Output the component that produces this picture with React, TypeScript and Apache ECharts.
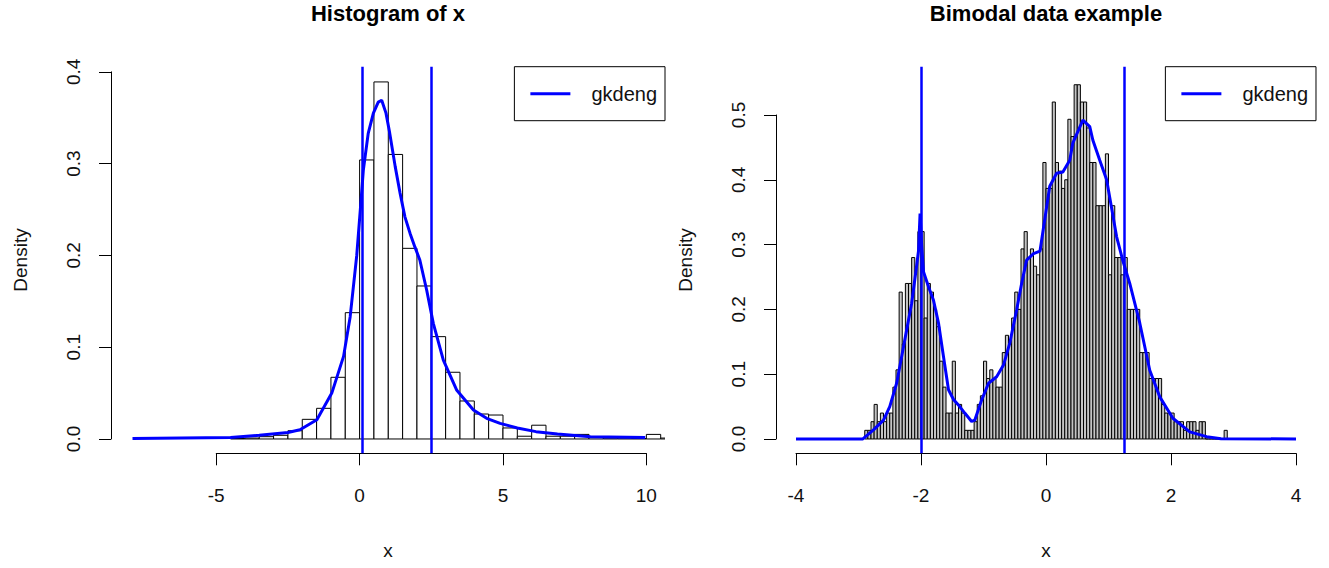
import React, { useEffect, useRef } from "react";
import * as echarts from "echarts";

// ---------------- Left panel: "Histogram of x" ----------------
const leftBinStart = -4.5;
const leftBinWidth = 0.5;
const leftBinDensity = [
  0.0005, 0.001, 0.0025, 0.004, 0.009, 0.0214, 0.0334, 0.0672, 0.1376, 0.304,
  0.389, 0.31, 0.2077, 0.1667, 0.1115, 0.0727, 0.0414, 0.0272, 0.0261, 0.012,
  0.003, 0.015, 0.003, 0.003, 0.005, 0.002, 0.001, 0.001, 0.0005, 0.005, 0.001,
];
const leftCurveX = [
  -7.92, -4.5, -3.5, -2.5, -2.08, -1.49, -0.97, -0.56, -0.33, -0.1, 0.05, 0.13,
  0.3, 0.48, 0.65, 0.77, 0.92, 1.04, 1.24, 1.41, 1.58, 1.76, 1.93, 2.1, 2.34,
  2.57, 2.92, 3.39, 3.97, 4.43, 4.9, 5.5, 6.15, 6.9, 8.05, 9.96,
];
const leftCurveY = [
  0.0005, 0.0015, 0.004, 0.007, 0.01, 0.021, 0.05, 0.09, 0.133, 0.2, 0.26, 0.293,
  0.333, 0.355, 0.367, 0.369, 0.355, 0.335, 0.297, 0.268, 0.242, 0.224, 0.209,
  0.195, 0.162, 0.126, 0.086, 0.053, 0.0316, 0.0225, 0.017, 0.012, 0.008,
  0.0054, 0.0025, 0.0015,
];
const leftVLines = [0.1, 2.5];
const leftXTicks = [-5, 0, 5, 10];
const leftYTicks = [0, 0.1, 0.2, 0.3, 0.4];

// ---------------- Right panel: "Bimodal data example" ----------------
// bin counts (bins of 0.05 starting at -2.90); density = count / (total * width)
const rightBinStart = -2.9;
const rightBinWidth = 0.05;
const rightTotal = 1500;
const rightBinCounts = [
  1, 1, 2, 4, 2, 3, 2, 3, 3, 6,
  8, 17, 11, 18, 18, 21, 16, 24, 24, 14,
  18, 17, 15, 13, 9, 6, 3, 3, 9, 3,
  4, 3, 1, 1, 1, 2, 4, 5, 9, 7,
  8, 7, 6, 6, 10, 12, 11, 14, 17, 15,
  22, 24, 21, 22, 20, 19, 22, 32, 29, 29,
  39, 32, 31, 29, 30, 37, 35, 41, 41, 39,
  39, 36, 32, 32, 27, 27, 27, 33, 19, 27,
  21, 21, 19, 21, 15, 15, 15, 15, 10, 10,
  10, 7, 7, 7, 7, 4, 3, 3, 3, 2,
  2, 2, 1, 2, 2, 2, 1, 2, 2, 0,
  0, 0, 0, 0, 0, 1,
];
const rightCurveX = [
  -4, -2.93, -2.76, -2.6, -2.5, -2.39, -2.31, -2.23, -2.15, -2.08, -2.04, -2.015,
  -1.99, -1.96, -1.88, -1.8, -1.72, -1.64, -1.56, -1.48, -1.38, -1.3, -1.19,
  -1.14, -1.03, -0.92, -0.79, -0.68, -0.58, -0.47, -0.39, -0.31, -0.2, -0.096,
  0.06, 0.17, 0.27, 0.38, 0.43, 0.59, 0.7, 0.75, 0.86, 0.97, 1.13, 1.23, 1.34,
  1.5, 1.66, 1.82, 2.03, 2.3, 2.57, 2.8, 4,
];
const rightCurveY = [
  0, 0, 0.014, 0.029, 0.05, 0.086, 0.127, 0.168, 0.209, 0.26, 0.29, 0.348,
  0.3, 0.258, 0.235, 0.214, 0.179, 0.127, 0.076, 0.061, 0.05, 0.04, 0.027,
  0.029, 0.06, 0.086, 0.096, 0.114, 0.148, 0.199, 0.24, 0.276, 0.286, 0.29,
  0.39, 0.41, 0.412, 0.43, 0.457, 0.492, 0.482, 0.461, 0.43, 0.4, 0.312, 0.275,
  0.24, 0.179, 0.106, 0.065, 0.032, 0.011, 0.0036, 0.0005, 0,
];
const rightVLines = [-1.99, 1.25];
const rightXTicks = [-4, -2, 0, 2, 4];
const rightYTicks = [0, 0.1, 0.2, 0.3, 0.4, 0.5];

const titles = ["Histogram of x", "Bimodal data example"];
const legendLabel = "gkdeng";
const xTitle = "x";
const yTitle = "Density";

// ---------------- layout ----------------
const W = 1329;
const PLOT_TOP = 66.7;
const PLOT_BOTTOM = 453.3;
const FONT = '"Liberation Sans", Arial, Helvetica, sans-serif';
const BLUE = "#0000ff";
const TEXT = "#111";

const rightBinDensity = rightBinCounts.map((c) => c / (rightTotal * rightBinWidth));

const panels = [
  {
    left: 111, right: 665, xMin: -8.67, xMax: 10.65, yMin: -0.0156, yMax: 0.4056,
    binStart: leftBinStart, binWidth: leftBinWidth, bins: leftBinDensity,
    cx: leftCurveX, cy: leftCurveY, vlines: leftVLines,
    xTicks: leftXTicks, yTicks: leftYTicks, fill: "#ffffff",
    title: titles[0], yTitleX: 20,
  },
  {
    left: 776, right: 1316, xMin: -4.32, xMax: 4.32, yMin: -0.0221, yMax: 0.5745,
    binStart: rightBinStart, binWidth: rightBinWidth, bins: rightBinDensity,
    cx: rightCurveX, cy: rightCurveY, vlines: rightVLines,
    xTicks: rightXTicks, yTicks: rightYTicks, fill: "#c4c4c4",
    title: titles[1], yTitleX: 685,
  },
];

function buildOption() {
  const grid: any[] = [];
  const xAxis: any[] = [];
  const yAxis: any[] = [];
  const series: any[] = [];
  const legend: any[] = [];
  const graphic: any[] = [];

  panels.forEach((p, k) => {
    const pw = p.right - p.left;
    const ph = PLOT_BOTTOM - PLOT_TOP;
    const px = (v: number) => p.left + ((v - p.xMin) / (p.xMax - p.xMin)) * pw;
    const py = (v: number) => PLOT_BOTTOM - ((v - p.yMin) / (p.yMax - p.yMin)) * ph;
    const xt0 = p.xTicks[0];
    const xt1 = p.xTicks[p.xTicks.length - 1];
    const yt1 = p.yTicks[p.yTicks.length - 1];
    const g0 = grid.length;

    grid.push({ left: p.left, top: PLOT_TOP, width: pw, height: ph });
    grid.push({ left: px(xt0), top: PLOT_BOTTOM - 1, width: px(xt1) - px(xt0), height: 1 });
    grid.push({ left: p.left, top: py(yt1), width: 1, height: py(0) - py(yt1) });

    xAxis.push({ type: "value", gridIndex: g0, min: p.xMin, max: p.xMax, show: false });
    yAxis.push({ type: "value", gridIndex: g0, min: p.yMin, max: p.yMax, show: false });

    xAxis.push({
      type: "value", gridIndex: g0 + 1, min: xt0, max: xt1,
      interval: p.xTicks[1] - p.xTicks[0],
      axisLine: { show: true, lineStyle: { color: "#000", width: 1 } },
      axisTick: { show: true, inside: false, length: 12, lineStyle: { color: "#000", width: 1 } },
      axisLabel: { show: true, margin: 33, fontSize: 19, color: TEXT, fontFamily: FONT },
      splitLine: { show: false },
    });
    yAxis.push({ type: "value", gridIndex: g0 + 1, show: false });

    xAxis.push({ type: "value", gridIndex: g0 + 2, show: false });
    yAxis.push({
      type: "value", gridIndex: g0 + 2, min: 0, max: yt1, interval: 0.1,
      axisLine: { show: true, lineStyle: { color: "#000", width: 1 } },
      axisTick: { show: true, inside: false, length: 12, lineStyle: { color: "#000", width: 1 } },
      axisLabel: {
        show: true, margin: 28, rotate: 90, fontSize: 19, color: TEXT, fontFamily: FONT,
        formatter: (v: number) => v.toFixed(1),
      },
      splitLine: { show: false },
    });

    const fill = p.fill;
    series.push({
      type: "custom",
      name: "hist" + k,
      xAxisIndex: g0,
      yAxisIndex: g0,
      clip: true,
      silent: true,
      z: 2,
      encode: { x: [0, 1], y: 2 },
      data: p.bins.map((h, i) => [p.binStart + i * p.binWidth, p.binStart + (i + 1) * p.binWidth, h]),
      renderItem: (_params: any, api: any) => {
        const a = api.coord([api.value(0), 0]);
        const b = api.coord([api.value(1), api.value(2)]);
        return {
          type: "rect",
          shape: { x: a[0], y: b[1], width: b[0] - a[0], height: a[1] - b[1] },
          style: { fill, stroke: "#000", lineWidth: 1 },
        };
      },
    });

    series.push({
      type: "line",
      name: legendLabel,
      xAxisIndex: g0,
      yAxisIndex: g0,
      data: p.cx.map((x, i) => [x, p.cy[i]]),
      showSymbol: false,
      symbol: "none",
      clip: true,
      z: 3,
      lineStyle: { color: BLUE, width: 3 },
      itemStyle: { color: BLUE },
      markLine: {
        silent: true,
        symbol: ["none", "none"],
        label: { show: false },
        lineStyle: { color: BLUE, width: 2.5, type: "solid" },
        data: p.vlines.map((v) => ({ xAxis: v })),
      },
    });

    legend.push({
      data: [legendLabel],
      right: W - p.right,
      top: PLOT_TOP,
      orient: "horizontal",
      selectedMode: false,
      backgroundColor: "#fff",
      borderColor: "#000",
      borderWidth: 1,
      borderRadius: 0,
      padding: [17, 8, 17, 16],
      icon: "rect",
      itemWidth: 40,
      itemHeight: 3,
      textStyle: { fontSize: 20, color: TEXT, fontFamily: FONT, padding: [0, 0, 0, 16] },
    });

    const cxMid = (p.left + p.right) / 2;
    graphic.push({
      type: "text", x: cxMid, y: 13,
      style: { text: p.title, font: `bold 22px ${FONT}`, fill: "#000", textAlign: "center", textVerticalAlign: "middle" },
    });
    graphic.push({
      type: "text", x: cxMid, y: 550,
      style: { text: xTitle, font: `19px ${FONT}`, fill: TEXT, textAlign: "center", textVerticalAlign: "middle" },
    });
    graphic.push({
      type: "text", x: p.yTitleX, y: (PLOT_TOP + PLOT_BOTTOM) / 2, rotation: Math.PI / 2,
      style: { text: yTitle, font: `19px ${FONT}`, fill: TEXT, textAlign: "center", textVerticalAlign: "middle" },
    });
  });

  return {
    animation: false,
    backgroundColor: "#ffffff",
    grid,
    xAxis,
    yAxis,
    series,
    legend,
    graphic,
  };
}

export default function App() {
  const ref = useRef<HTMLDivElement>(null);
  useEffect(() => {
    if (!ref.current) return;
    const chart = echarts.init(ref.current, null, { renderer: "svg" });
    chart.setOption(buildOption() as any);
    return () => chart.dispose();
  }, []);
  return (
    <div
      ref={ref}
      style={{ position: "fixed", left: 0, top: 0, width: 1329, height: 568, background: "#fff" }}
    />
  );
}
